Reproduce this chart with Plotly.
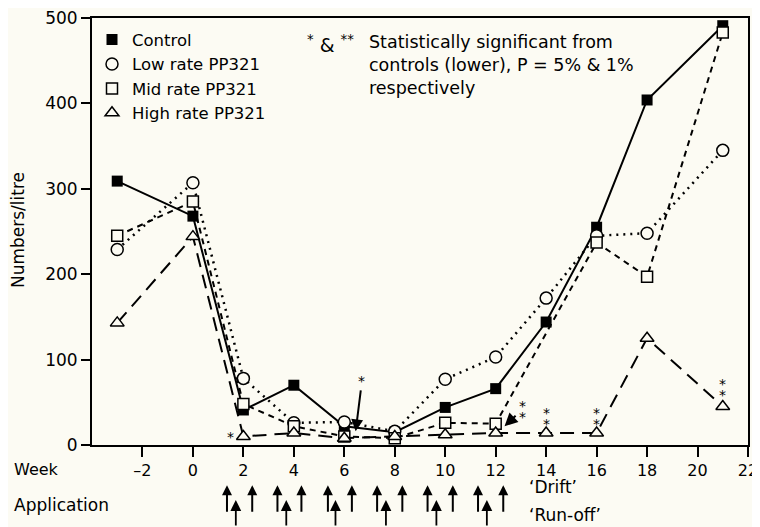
import plotly.graph_objects as go

# ---------------- data ----------------
weeks = [-3, 0, 2, 4, 6, 8, 10, 12, 14, 16, 18, 21]
control = [309, 268, 41, 70, 22, 15, 44, 66, 144, 255, 404, 491]
low_rate = [229, 307, 78, 26, 27, 16, 77, 103, 172, 245, 248, 345]
mid_weeks = [-3, 0, 2, 4, 6, 8, 10, 12, 16, 18, 21]
mid_rate = [245, 285, 48, 22, 10, 8, 26, 25, 237, 197, 483]
high_rate = [143, 244, 10, 14, 8, 10, 12, 14, 14, 14, 125, 45]

series_names = ["Control", "Low rate PP321", "Mid rate PP321", "High rate PP321"]

x_tick_vals = [-2, 0, 2, 4, 6, 8, 10, 12, 14, 16, 18, 20, 22]
x_tick_text = ["\u20132", "0", "2", "4", "6", "8", "10", "12", "14", "16", "18", "20", "22"]
y_tick_vals = [0, 100, 200, 300, 400, 500]

# individual significance asterisks (week, value)
star_weeks = [1.5, 13.05, 13.05, 14.0, 14.0, 16.0, 16.0, 21.0, 21.0]
star_values = [9, 46, 33, 38, 25, 38, 25, 71, 58]

# application timings (weeks)
drift_weeks = [1.35, 2.35, 3.35, 4.3, 5.35, 6.3, 7.3, 8.3, 9.3, 10.3, 11.3, 12.3]
runoff_weeks = [1.7, 3.7, 5.65, 7.65, 9.65, 11.65]

FONT = "DejaVu Sans, Liberation Sans, Arial, sans-serif"
BG = "#fcfbf3"

fig = go.Figure()

line_w = 2
fig.add_trace(go.Scatter(x=weeks, y=control, mode="lines+markers", showlegend=False,
                         line=dict(color="black", width=line_w),
                         marker=dict(symbol="square", size=11, color="black")))
fig.add_trace(go.Scatter(x=weeks, y=low_rate, mode="lines+markers", showlegend=False,
                         line=dict(color="black", width=line_w + 0.5, dash="2px,5px"),
                         marker=dict(symbol="circle", size=12, color=BG,
                                     line=dict(color="black", width=1.5))))
fig.add_trace(go.Scatter(x=mid_weeks, y=mid_rate, mode="lines+markers", showlegend=False,
                         line=dict(color="black", width=line_w, dash="6px,5px"),
                         marker=dict(symbol="square", size=11, color=BG,
                                     line=dict(color="black", width=1.5))))
fig.add_trace(go.Scatter(x=weeks, y=high_rate, mode="lines+markers", showlegend=False,
                         line=dict(color="black", width=line_w, dash="14px,8px"),
                         marker=dict(symbol="triangle-up", size=12, color=BG,
                                     line=dict(color="black", width=1.5))))

# legend-only marker entries
leg_markers = [
    dict(symbol="square", size=11, color="black"),
    dict(symbol="circle", size=12, color=BG, line=dict(color="black", width=1.5)),
    dict(symbol="square", size=11, color=BG, line=dict(color="black", width=1.5)),
    dict(symbol="triangle-up", size=12, color=BG, line=dict(color="black", width=1.5)),
]
for name, mk in zip(series_names, leg_markers):
    fig.add_trace(go.Scatter(x=[None], y=[None], mode="markers", name=name, marker=mk))

annotations = []
# asterisks
for wx, vy in zip(star_weeks, star_values):
    annotations.append(dict(x=wx, y=vy, xref="x", yref="y", text="*", showarrow=False,
                            font=dict(size=14, color="black", family=FONT)))
# asterisk with arrow near week 6-7
annotations.append(dict(x=6.45, y=16, xref="x", yref="y", ax=6.7, ay=75, axref="x", ayref="y",
                        text="*", showarrow=True, arrowhead=2, arrowsize=1.2, arrowwidth=2,
                        arrowcolor="black", font=dict(size=14, color="black", family=FONT)))
# arrow pointing to week 12
annotations.append(dict(x=12.35, y=22, xref="x", yref="y", ax=12.85, ay=36, axref="x", ayref="y",
                        text="", showarrow=True, arrowhead=2, arrowsize=1.3, arrowwidth=2,
                        arrowcolor="black"))

# y-axis title
annotations.append(dict(x=-0.113, y=0.503, xref="paper", yref="paper", xanchor="center", yanchor="middle",
                        text="Numbers/litre", textangle=-90, showarrow=False,
                        font=dict(size=17, color="black", family=FONT)))

# explanation text
annotations.append(dict(x=0.363, y=0.972, xref="paper", yref="paper", xanchor="center", yanchor="top",
                        text="<sup>*</sup> & <sup>**</sup>", showarrow=False,
                        font=dict(size=19, color="black", family=FONT)))
annotations.append(dict(x=0.419, y=0.972, xref="paper", yref="paper", xanchor="left", yanchor="top",
                        align="left",
                        text="Statistically significant from<br>controls (lower), P = 5% & 1%<br>respectively",
                        showarrow=False, font=dict(size=17.5, color="black", family=FONT)))

# bottom labels
annotations.append(dict(x=-0.122, y=-0.0585, xref="paper", yref="paper", xanchor="left", yanchor="middle",
                        text="Week", showarrow=False, font=dict(size=16, color="black", family=FONT)))
annotations.append(dict(x=-0.122, y=-0.1405, xref="paper", yref="paper", xanchor="left", yanchor="middle",
                        text="Application", showarrow=False, font=dict(size=17, color="black", family=FONT)))
annotations.append(dict(x=13.25, y=-0.098, xref="x", yref="paper", xanchor="left", yanchor="middle",
                        text="\u2018Drift\u2019", showarrow=False, font=dict(size=17, color="black", family=FONT)))
annotations.append(dict(x=13.25, y=-0.164, xref="x", yref="paper", xanchor="left", yanchor="middle",
                        text="\u2018Run-off\u2019", showarrow=False, font=dict(size=17, color="black", family=FONT)))

# application arrows
for wx in drift_weeks:
    annotations.append(dict(x=wx, y=-0.094, xref="x", yref="paper", ax=0, ay=28, axref="pixel", ayref="pixel",
                            text="", showarrow=True, arrowhead=2, arrowsize=1.0, arrowwidth=2,
                            arrowcolor="black"))
for wx in runoff_weeks:
    annotations.append(dict(x=wx, y=-0.129, xref="x", yref="paper", ax=0, ay=30, axref="pixel", ayref="pixel",
                            text="", showarrow=True, arrowhead=2, arrowsize=1.2, arrowwidth=1.8,
                            arrowcolor="black"))
    annotations.append(dict(x=wx, y=-0.129, xref="x", yref="paper", ax=0, ay=5, axref="pixel", ayref="pixel",
                            text="", showarrow=True, arrowhead=2, arrowsize=0.6, arrowwidth=1.6,
                            standoff=3, arrowcolor=BG))

fig.update_layout(
    width=752, height=519,
    margin=dict(l=84, r=12, t=10, b=82),
    paper_bgcolor=BG, plot_bgcolor=BG,
    font=dict(family=FONT, color="black", size=16),
    showlegend=True,
    legend=dict(x=0.0, y=0.99, xanchor="left", yanchor="top", bgcolor="rgba(0,0,0,0)",
                font=dict(size=16.5, family=FONT), tracegroupgap=0, itemwidth=30),
    annotations=annotations,
)
fig.update_xaxes(range=[-4, 22], tickmode="array", tickvals=x_tick_vals, ticktext=x_tick_text,
                 showgrid=False, zeroline=False, showline=True, mirror=True, linecolor="black",
                 linewidth=2, ticks="outside", ticklen=10, tickwidth=2, tickcolor="black",
                 tickfont=dict(size=16, family=FONT), automargin=False, ticklabeloverflow="allow")
fig.update_yaxes(range=[0, 500], tickmode="array", tickvals=y_tick_vals,
                 showgrid=False, zeroline=False, showline=True, mirror=True, linecolor="black",
                 linewidth=2, ticks="outside", ticklen=9, tickwidth=2, tickcolor="black",
                 tickfont=dict(size=17, family=FONT), automargin=False, ticklabeloverflow="allow")

fig.write_html("out.html")
